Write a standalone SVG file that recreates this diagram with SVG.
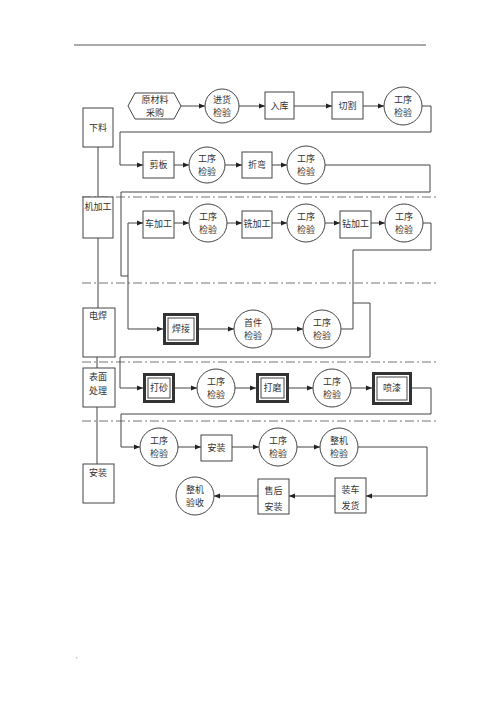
<svg xmlns="http://www.w3.org/2000/svg" width="500" height="708" viewBox="0 0 500 708">
<style>
.n{fill:#fff;stroke:#444;stroke-width:1}
.t{font-family:"Noto Sans CJK SC","Noto Sans",sans-serif;font-size:9px;fill:#333;text-anchor:middle}
.c{fill:none;stroke:#444;stroke-width:1}
.a{marker-end:url(#ar)}
.dd{fill:none;stroke:#777;stroke-width:1;stroke-dasharray:9 3 2 3}
.tb{fill:#fff;stroke:#333;stroke-width:3}
.ti{fill:none;stroke:#444;stroke-width:1}
</style>
<defs>
<marker id="ar" markerWidth="6" markerHeight="6" refX="6" refY="3" orient="auto" markerUnits="userSpaceOnUse">
<path d="M0,0.5 L6,3 L0,5.5 z" fill="#222"/>
</marker>
</defs>
<rect width="500" height="708" fill="#fff"/>
<line x1="74" y1="45" x2="426" y2="45" stroke="#555" stroke-width="1.2"/>
<text x="422" y="43" style="font-family:'Liberation Sans',sans-serif;font-size:6px;fill:#bbb">-</text>
<text x="76" y="662" style="font-family:'Liberation Sans',sans-serif;font-size:7px;fill:#888">'</text>

<g id="separators">
<line class="dd" x1="82" y1="197" x2="438" y2="197"/>
<line class="dd" x1="82" y1="283" x2="438" y2="283"/>
<line class="dd" x1="82" y1="362" x2="438" y2="362"/>
<line class="dd" x1="82" y1="421" x2="438" y2="421"/>
</g>

<g id="connectors">
<path class="c" d="M98,147 V197 M98,238 V308 M97,357 V368 M97,407 V464"/>
<path class="c a" d="M181,106 H205"/>
<path class="c a" d="M239,106 H265"/>
<path class="c a" d="M294,106 H332"/>
<path class="c a" d="M363,106 H384"/>
<path class="c a" d="M422,106 H431 V132 H120 V165 H143"/>
<path class="c a" d="M174,165 H189"/>
<path class="c a" d="M225,165 H242"/>
<path class="c a" d="M272,165 H287"/>
<path class="c" d="M325,165 H430 V192 H121 V276 H128"/>
<path class="c a" d="M128,276 V223 H143"/>
<path class="c a" d="M128,276 V329 H163"/>
<path class="c a" d="M174,223 H189"/>
<path class="c a" d="M227,223 H242"/>
<path class="c a" d="M272,223 H287"/>
<path class="c a" d="M325,223 H340"/>
<path class="c a" d="M371,223 H385"/>
<path class="c" d="M423,223 H431 V250 H353 V329 H341"/>
<path class="c a" d="M199,329 H234"/>
<path class="c a" d="M272,329 H303"/>
<path class="c a" d="M353,303 H370 V357 H120 V388 H143"/>
<path class="c a" d="M175,388 H197"/>
<path class="c a" d="M235,388 H256"/>
<path class="c a" d="M289,388 H313"/>
<path class="c a" d="M351,388 H372"/>
<path class="c a" d="M412,388 H431 V414 H121 V447 H140"/>
<path class="c a" d="M178,447 H201"/>
<path class="c a" d="M232,447 H259"/>
<path class="c a" d="M297,447 H320"/>
<path class="c a" d="M358,447 H427 V496 H366"/>
<path class="c a" d="M335,496 H289"/>
<path class="c a" d="M258,496 H214"/>
</g>

<g id="lane-xialiao"><rect class="n" x="83" y="108" width="30" height="39"/><text class="t" x="98" y="131">下料</text></g>
<g id="lane-jijiagong"><rect class="n" x="83" y="197" width="30" height="41"/><text class="t" x="98" y="210">机加工</text></g>
<g id="lane-dianhan"><rect class="n" x="83" y="308" width="32" height="49"/><text class="t" x="98" y="319">电焊</text></g>
<g id="lane-biaomian"><rect class="n" x="83" y="368" width="32" height="39"/><text class="t" x="98" y="380">表面</text><text class="t" x="98" y="394">处理</text></g>
<g id="lane-anzhuang"><rect class="n" x="83" y="464" width="31" height="39"/><text class="t" x="98" y="476">安装</text></g>

<g id="n-caigou"><polygon class="n" points="128,106 135,93 174,93 181,106 174,119 135,119"/><text class="t" x="155" y="103">原材料</text><text class="t" x="155" y="116">采购</text></g>
<g id="n-jinhuo"><circle class="n" cx="222" cy="106" r="17"/><text class="t" x="222" y="103">进货</text><text class="t" x="222" y="116">检验</text></g>
<g id="n-ruku"><rect class="n" x="265" y="92" width="29" height="27"/><text class="t" x="279.5" y="109">入库</text></g>
<g id="n-qiege"><rect class="n" x="332" y="92" width="31" height="27"/><text class="t" x="347.5" y="109">切割</text></g>
<g id="n-jy1"><circle class="n" cx="403" cy="106" r="19"/><text class="t" x="403" y="103">工序</text><text class="t" x="403" y="116">检验</text></g>

<g id="n-jianban"><rect class="n" x="143" y="152" width="31" height="26"/><text class="t" x="158.5" y="168">剪板</text></g>
<g id="n-jy2"><circle class="n" cx="207" cy="165" r="18"/><text class="t" x="207" y="162">工序</text><text class="t" x="207" y="175">检验</text></g>
<g id="n-zhewan"><rect class="n" x="242" y="152" width="30" height="26"/><text class="t" x="257" y="168">折弯</text></g>
<g id="n-jy3"><circle class="n" cx="306" cy="165" r="19"/><text class="t" x="306" y="162">工序</text><text class="t" x="306" y="175">检验</text></g>

<g id="n-chejiagong"><rect class="n" x="143" y="211" width="31" height="27"/><text class="t" x="158.5" y="227">车加工</text></g>
<g id="n-jy4"><circle class="n" cx="208" cy="223" r="19"/><text class="t" x="208" y="220">工序</text><text class="t" x="208" y="233">检验</text></g>
<g id="n-xijiagong"><rect class="n" x="242" y="211" width="30" height="27"/><text class="t" x="257" y="227">铣加工</text></g>
<g id="n-jy5"><circle class="n" cx="306" cy="223" r="19"/><text class="t" x="306" y="220">工序</text><text class="t" x="306" y="233">检验</text></g>
<g id="n-zuanjiagong"><rect class="n" x="340" y="211" width="31" height="27"/><text class="t" x="355.5" y="227">钻加工</text></g>
<g id="n-jy6"><circle class="n" cx="404" cy="223" r="19"/><text class="t" x="404" y="220">工序</text><text class="t" x="404" y="233">检验</text></g>

<g id="n-hanjie"><rect class="tb" x="164.5" y="314.5" width="33" height="29"/><rect class="ti" x="168" y="318" width="26" height="22"/><text class="t" x="181" y="332">焊接</text></g>
<g id="n-shoujian"><circle class="n" cx="253" cy="329" r="19"/><text class="t" x="253" y="326">首件</text><text class="t" x="253" y="339">检验</text></g>
<g id="n-jy7"><circle class="n" cx="322" cy="329" r="19"/><text class="t" x="322" y="326">工序</text><text class="t" x="322" y="339">检验</text></g>

<g id="n-dasha"><rect class="tb" x="144.5" y="374.5" width="29" height="27"/><rect class="ti" x="148" y="378" width="22" height="20"/><text class="t" x="159" y="391">打砂</text></g>
<g id="n-jy8"><circle class="n" cx="216" cy="388" r="19"/><text class="t" x="216" y="385">工序</text><text class="t" x="216" y="398">检验</text></g>
<g id="n-damo"><rect class="tb" x="257.5" y="374.5" width="30" height="27"/><rect class="ti" x="261" y="378" width="23" height="20"/><text class="t" x="272.5" y="391">打磨</text></g>
<g id="n-jy9"><circle class="n" cx="332" cy="388" r="19"/><text class="t" x="332" y="385">工序</text><text class="t" x="332" y="398">检验</text></g>
<g id="n-penqi"><rect class="tb" x="373.5" y="373.5" width="37" height="30"/><rect class="ti" x="377" y="377" width="30" height="23"/><text class="t" x="392" y="391">喷漆</text></g>

<g id="n-jy10"><circle class="n" cx="159" cy="447" r="19"/><text class="t" x="159" y="444">工序</text><text class="t" x="159" y="457">检验</text></g>
<g id="n-anzhuang"><rect class="n" x="201" y="435" width="31" height="26"/><text class="t" x="216.5" y="451">安装</text></g>
<g id="n-jy11"><circle class="n" cx="278" cy="447" r="19"/><text class="t" x="278" y="444">工序</text><text class="t" x="278" y="457">检验</text></g>
<g id="n-zhengjijianyan"><circle class="n" cx="339" cy="447" r="19"/><text class="t" x="339" y="444">整机</text><text class="t" x="339" y="457">检验</text></g>

<g id="n-zhuangche"><rect class="n" x="335" y="478" width="31" height="35"/><text class="t" x="350.5" y="493">装车</text><text class="t" x="350.5" y="509">发货</text></g>
<g id="n-shouhou"><rect class="n" x="258" y="479" width="31" height="35"/><text class="t" x="273.5" y="494">售后</text><text class="t" x="273.5" y="510">安装</text></g>
<g id="n-yanshou"><circle class="n" cx="195" cy="496" r="19"/><text class="t" x="195" y="493">整机</text><text class="t" x="195" y="506">验收</text></g>
</svg>
